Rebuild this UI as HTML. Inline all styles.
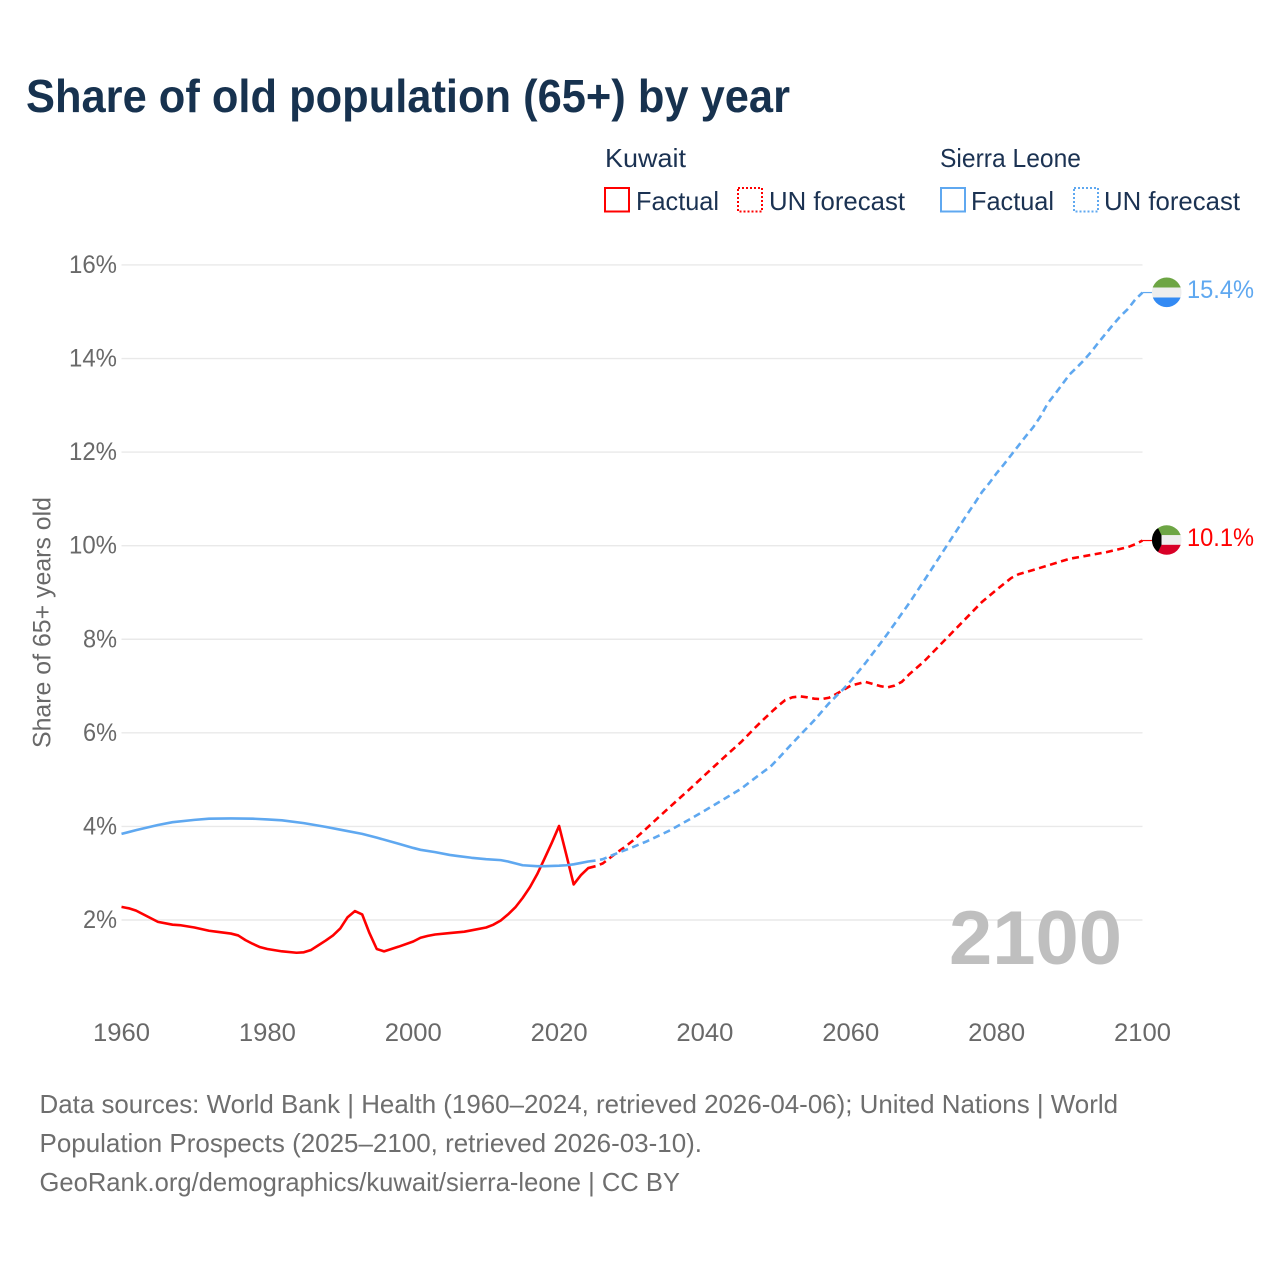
<!DOCTYPE html>
<html lang="en">
<head>
<meta charset="utf-8">
<title>Share of old population (65+) by year</title>
<style>
html,body{margin:0;padding:0;background:#fff}
svg{display:block}
text{font-family:"Liberation Sans",sans-serif}
</style>
</head>
<body>
<svg id="chart" xmlns="http://www.w3.org/2000/svg" width="1280" height="1280" viewBox="0 0 1280 1280">
  <rect width="1280" height="1280" fill="#fff"/>
  <text x="26" y="112" font-size="46" font-weight="700" fill="#17324f" textLength="764" lengthAdjust="spacingAndGlyphs">Share of old population (65+) by year</text>

  <g font-size="26" fill="#1b3252">
    <text x="605" y="167" textLength="81" lengthAdjust="spacingAndGlyphs">Kuwait</text>
    <text x="940" y="167" textLength="141" lengthAdjust="spacingAndGlyphs">Sierra Leone</text>
    <rect x="605" y="188" width="24" height="23.5" fill="none" stroke="#ff0000" stroke-width="2"/>
    <text x="636" y="210" textLength="83" lengthAdjust="spacingAndGlyphs">Factual</text>
    <rect x="738" y="188" width="24" height="23.5" fill="none" stroke="#ff0000" stroke-width="2" stroke-dasharray="2 2"/>
    <text x="769" y="210" textLength="136" lengthAdjust="spacingAndGlyphs">UN forecast</text>
    <rect x="941" y="188" width="24" height="23.5" fill="none" stroke="#5fa8f0" stroke-width="2"/>
    <text x="971" y="210" textLength="83" lengthAdjust="spacingAndGlyphs">Factual</text>
    <rect x="1074" y="188" width="24" height="23.5" fill="none" stroke="#5fa8f0" stroke-width="2" stroke-dasharray="2 2"/>
    <text x="1104" y="210" textLength="136" lengthAdjust="spacingAndGlyphs">UN forecast</text>
  </g>

  <g id="grid"></g>
  <g id="yticks"></g>
  <g id="xticks"></g>
  <text transform="translate(50.5 748) rotate(-90)" font-size="24.6" fill="#696969" textLength="251" lengthAdjust="spacingAndGlyphs">Share of 65+ years old</text>
  <text x="949" y="964" font-size="76" font-weight="700" fill="#bfbfbf" textLength="173" lengthAdjust="spacingAndGlyphs">2100</text>

  <g id="series"></g>

  <defs>
    <clipPath id="flag-clip-sl"><circle cx="1166.7" cy="292.3" r="14.8"/></clipPath>
    <clipPath id="flag-clip-kw"><circle cx="1166.7" cy="540" r="14.8"/></clipPath>
  </defs>
  <g id="flag-sl" clip-path="url(#flag-clip-sl)">
    <rect x="1150" y="277" width="34" height="10.5" fill="#6da544"/>
    <rect x="1150" y="287.5" width="34" height="10" fill="#eeeeee"/>
    <rect x="1150" y="297.5" width="34" height="10" fill="#338af3"/>
  </g>
  <g id="flag-kw" clip-path="url(#flag-clip-kw)">
    <rect x="1150" y="525" width="34" height="10.2" fill="#6da544"/>
    <rect x="1150" y="535.2" width="34" height="9.6" fill="#eeeeee"/>
    <rect x="1150" y="544.8" width="34" height="10.2" fill="#d80027"/>
    <path d="M1150 525 L1158 528 L1161.5 535.2 L1161.5 544.8 L1158 552 L1150 555 Z" fill="#000"/>
  </g>
  <text x="1187" y="298" font-size="25" fill="#5fa8f0" textLength="67" lengthAdjust="spacingAndGlyphs">15.4%</text>
  <text x="1187" y="546" font-size="25" fill="#ff0000" textLength="67" lengthAdjust="spacingAndGlyphs">10.1%</text>

  <g font-size="26" fill="#6e6e6e">
    <text x="39.5" y="1113" textLength="1078.5" lengthAdjust="spacingAndGlyphs">Data sources: World Bank | Health (1960–2024, retrieved 2026-04-06); United Nations | World</text>
    <text x="39.5" y="1152" textLength="662.5" lengthAdjust="spacingAndGlyphs">Population Prospects (2025–2100, retrieved 2026-03-10).</text>
    <text x="39.5" y="1191" textLength="640.5" lengthAdjust="spacingAndGlyphs">GeoRank.org/demographics/kuwait/sierra-leone | CC BY</text>
  </g>
</svg>
<script>
const yTickValues = [2, 4, 6, 8, 10, 12, 14, 16];
const yTickLabels = ['2%', '4%', '6%', '8%', '10%', '12%', '14%', '16%'];
const xTickYears = [1960, 1980, 2000, 2020, 2040, 2060, 2080, 2100];

const kuwaitFactualYears = [1960,1961,1962,1963,1965,1967,1968,1970,1972,1973,1975,1976,1977,1978,1979,1980,1982,1984,1985,1986,1987,1988,1989,1990,1991,1992,1993,1994,1995,1996,1997,1998,2000,2001,2002,2003,2005,2007,2008,2010,2011,2012,2013,2014,2015,2016,2017,2018,2019,2020,2021,2022,2023,2024,2025];
const kuwaitFactualValues = [2.28,2.25,2.20,2.12,1.96,1.90,1.89,1.84,1.77,1.75,1.71,1.67,1.57,1.49,1.42,1.38,1.33,1.30,1.31,1.36,1.46,1.56,1.67,1.82,2.06,2.19,2.12,1.72,1.38,1.33,1.38,1.43,1.54,1.62,1.66,1.69,1.72,1.75,1.78,1.84,1.90,1.99,2.12,2.27,2.47,2.70,2.98,3.31,3.65,4.01,3.39,2.76,2.96,3.11,3.15];

const kuwaitForecastYears = [2025,2026,2027,2028,2029,2030,2032,2035,2038,2040,2043,2045,2047,2049,2050,2051,2052,2053,2054,2055,2056,2057,2058,2059,2060,2062,2064,2065,2066,2067,2068,2070,2072,2075,2078,2080,2082,2083,2085,2090,2095,2098,2099,2100];
const kuwaitForecastValues = [3.15,3.21,3.33,3.45,3.56,3.68,3.96,4.39,4.81,5.10,5.53,5.81,6.13,6.43,6.57,6.70,6.76,6.78,6.76,6.73,6.72,6.75,6.83,6.92,7.01,7.09,7.00,6.97,7.01,7.09,7.25,7.52,7.84,8.32,8.80,9.06,9.31,9.39,9.48,9.72,9.86,9.97,10.03,10.11];

const sierraFactualYears = [1960,1962,1965,1967,1970,1972,1975,1978,1980,1982,1985,1988,1990,1993,1995,1998,2000,2001,2003,2005,2006,2008,2010,2012,2013,2014,2015,2017,2018,2020,2021,2022,2023,2024,2025];
const sierraFactualValues = [3.84,3.92,4.03,4.09,4.14,4.165,4.17,4.165,4.15,4.13,4.07,3.99,3.93,3.84,3.76,3.63,3.54,3.50,3.45,3.39,3.37,3.33,3.30,3.28,3.25,3.21,3.17,3.15,3.15,3.16,3.17,3.19,3.22,3.25,3.27];

const sierraForecastYears = [2025,2026,2028,2030,2032,2035,2038,2040,2043,2045,2047,2049,2050,2052,2055,2057,2059,2060,2062,2064,2065,2066,2068,2070,2072,2074,2075,2076,2077,2078,2079,2080,2081,2082,2083,2084,2085,2086,2087,2088,2089,2090,2091,2092,2093,2094,2095,2096,2097,2098,2099,2100];
const sierraForecastValues = [3.27,3.30,3.43,3.55,3.68,3.90,4.16,4.34,4.62,4.81,5.05,5.28,5.44,5.78,6.27,6.63,6.94,7.11,7.49,7.90,8.11,8.33,8.77,9.24,9.72,10.20,10.44,10.68,10.91,11.15,11.34,11.55,11.74,11.94,12.14,12.34,12.53,12.76,13.04,13.24,13.45,13.66,13.81,13.97,14.15,14.35,14.54,14.73,14.91,15.06,15.26,15.41];

const SVGNS = 'http://www.w3.org/2000/svg';
function xScale(year) { return 121.5 + (year - 1960) * 7.293; }
function yScale(value) { return 920 - (value - 2) * 46.79; }
function pointsFor(years, values) {
  return years.map(function (yr, i) {
    return xScale(yr).toFixed(2) + ',' + yScale(values[i]).toFixed(2);
  }).join(' ');
}
const gridGroup = document.getElementById('grid');
const yTickGroup = document.getElementById('yticks');
const xTickGroup = document.getElementById('xticks');
const seriesGroup = document.getElementById('series');

yTickValues.forEach(function (v, i) {
  const line = document.createElementNS(SVGNS, 'line');
  
  
  line.setAttribute('x1', xScale(1960));
  line.setAttribute('x2', xScale(2100));
  line.setAttribute('y1', yScale(v));
  line.setAttribute('y2', yScale(v));
  line.setAttribute('stroke', '#e9e9e9');
  line.setAttribute('stroke-width', '1.4');
  gridGroup.appendChild(line);
  const label = document.createElementNS(SVGNS, 'text');
  
  
  label.setAttribute('x', 117);
  label.setAttribute('y', yScale(v) + 8);
  label.setAttribute('text-anchor', 'end');
  label.setAttribute('font-size', '24.6');
  label.setAttribute('fill', '#696969');
  label.setAttribute('textLength', yTickLabels[i].length === 2 ? 34 : 48);
  label.setAttribute('lengthAdjust', 'spacingAndGlyphs');
  label.textContent = yTickLabels[i];
  yTickGroup.appendChild(label);
});

xTickYears.forEach(function (yr) {
  const label = document.createElementNS(SVGNS, 'text');
  
  
  label.setAttribute('x', xScale(yr));
  label.setAttribute('y', 1041);
  label.setAttribute('text-anchor', 'middle');
  label.setAttribute('font-size', '24.6');
  label.setAttribute('fill', '#696969');
  label.setAttribute('textLength', 57);
  label.setAttribute('lengthAdjust', 'spacingAndGlyphs');
  label.textContent = String(yr);
  xTickGroup.appendChild(label);
});

function drawLine(years, values, color, dashed) {
  const line = document.createElementNS(SVGNS, 'polyline');
  
  
  line.setAttribute('points', pointsFor(years, values));
  line.setAttribute('fill', 'none');
  line.setAttribute('stroke', color);
  line.setAttribute('stroke-width', '2.6');
  line.setAttribute('stroke-linejoin', 'round');
  if (dashed) {
    line.setAttribute('stroke-dasharray', '7 4.5');
    line.setAttribute('stroke-dashoffset', '7');
  }
  seriesGroup.appendChild(line);
}
function drawConnector(values, color) {
  const last = values[values.length - 1];
  const line = document.createElementNS(SVGNS, 'line');
  
  
  line.setAttribute('x1', xScale(2100));
  line.setAttribute('x2', 1153);
  line.setAttribute('y1', yScale(last));
  line.setAttribute('y2', yScale(last));
  line.setAttribute('stroke', color);
  line.setAttribute('stroke-width', '1.2');
  seriesGroup.appendChild(line);
}
drawLine(kuwaitFactualYears, kuwaitFactualValues, '#ff0000', false);
drawLine(kuwaitForecastYears, kuwaitForecastValues, '#ff0000', true);
drawConnector(kuwaitForecastValues, '#ff0000');
drawLine(sierraFactualYears, sierraFactualValues, '#5fa8f0', false);
drawLine(sierraForecastYears, sierraForecastValues, '#5fa8f0', true);
drawConnector(sierraForecastValues, '#5fa8f0');
</script>
</body>
</html>
